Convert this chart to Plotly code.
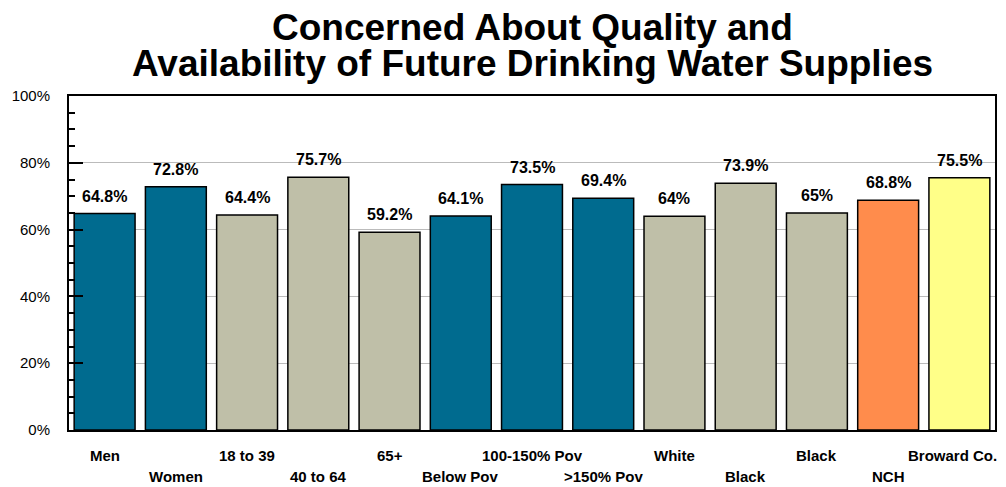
import plotly.graph_objects as go

categories = ["Men", "Women", "18 to 39", "40 to 64", "65+", "Below Pov", "100-150% Pov",
              ">150% Pov", "White", "Black", "Black", "NCH", "Broward Co."]
values = [64.8, 72.8, 64.4, 75.7, 59.2, 64.1, 73.5, 69.4, 64, 73.9, 65, 68.8, 75.5]
value_labels = ["64.8%", "72.8%", "64.4%", "75.7%", "59.2%", "64.1%", "73.5%", "69.4%",
                "64%", "73.9%", "65%", "68.8%", "75.5%"]
groups = ["sex", "sex", "age", "age", "age", "pov", "pov", "pov", "race", "race", "race", "nch", "county"]
y_ticks = [0, 20, 40, 60, 80, 100]
y_tick_text = ["0%", "20%", "40%", "60%", "80%", "100%"]
title_lines = ["Concerned About Quality and", "Availability of Future Drinking Water Supplies"]

group_colors = {"sex": "#006B8F", "age": "#BFBFA8", "pov": "#006B8F", "race": "#BFBFA8",
                "nch": "#FF8C4C", "county": "#FFFF88"}
bar_colors = [group_colors[g] for g in groups]
xs = list(range(len(categories)))

fig = go.Figure(go.Bar(x=xs, y=values, marker=dict(color=bar_colors, line=dict(color="black", width=1.5)),
                       hoverinfo="skip"))

# value labels above the bars
for i, (v, t) in enumerate(zip(values, value_labels)):
    fig.add_annotation(x=i, y=v, text=f"<b>{t}</b>", showarrow=False, yanchor="bottom", yshift=7,
                       font=dict(family="Arial", size=16, color="black"))

# staggered category labels (last one nudged so it stays inside the page)
for i, c in enumerate(categories):
    fig.add_annotation(x=i, y=0, yref="y", text=f"<b>{c}</b>", showarrow=False, yanchor="middle",
                       yshift=-25 if i % 2 == 0 else -46, xshift=-7 if i == len(categories) - 1 else 0,
                       font=dict(family="Arial", size=15, color="black"))

# two-line title
for line, shift in zip(title_lines, [69, 33]):
    fig.add_annotation(x=0.5, xref="paper", y=1, yref="paper", text=f"<b>{line}</b>", showarrow=False,
                       yanchor="middle", yshift=shift,
                       font=dict(family="Arial", size=37, color="black"))

# page body has an 8px margin, so the figure is sized to fit the window
fig.update_layout(
    width=998, height=479,
    margin=dict(l=61, r=11, t=88, b=57),
    plot_bgcolor="white", paper_bgcolor="white",
    bargap=0.145, showlegend=False,
    font=dict(family="Arial", color="black"),
)
fig.update_xaxes(range=[-0.5, len(categories) - 0.5], showticklabels=False, showgrid=False, zeroline=False,
                 showline=True, linecolor="black", linewidth=2, mirror=True, ticks="", automargin=False)
fig.update_yaxes(range=[0, 100], tickvals=y_ticks, ticktext=y_tick_text, showgrid=True, gridcolor="#BBBBBB",
                 gridwidth=1, zeroline=False, showline=True, linecolor="black", linewidth=2, mirror=True,
                 ticks="inside", ticklen=14, tickcolor="black", tickwidth=1.5, ticklabelstandoff=14,
                 minor=dict(dtick=5, ticks="inside", ticklen=6, tickcolor="black", showgrid=False),
                 tickfont=dict(family="Arial", size=15, color="black"), automargin=False)

fig.write_html("out.html")
